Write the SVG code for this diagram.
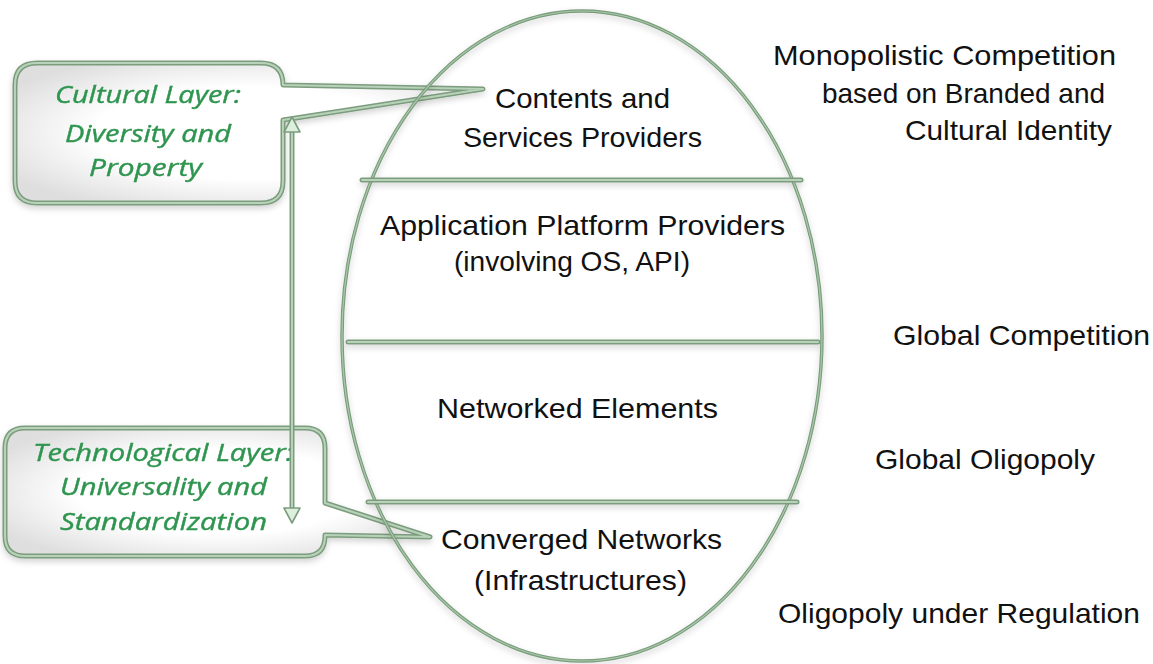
<svg xmlns="http://www.w3.org/2000/svg" width="1153" height="664" viewBox="0 0 1153 664">
<style>
.txt{font-family:"Liberation Sans",Arial,sans-serif;font-size:28px;fill:#111}
.ctxt{font-family:"Open Sans","Liberation Sans",sans-serif;font-size:24px;font-style:italic;fill:#2f9550;stroke:#2f9550;stroke-width:0.4}
.outer{fill:none;stroke:#7c9c7e;stroke-width:5;stroke-linecap:round;stroke-linejoin:round}
.inner{fill:none;stroke:#b7d2b8;stroke-width:2;stroke-linecap:round;stroke-linejoin:round}
.eo{fill:none;stroke:#7a9c7c;stroke-width:3.5}
.ei{fill:none;stroke:#a8c8aa;stroke-width:1.2}
.boxfill{fill:url(#boxg)}
.head{fill:#dcefdc;stroke:#7c9c7e;stroke-width:1.6;stroke-linejoin:round}
</style>
<defs>
<radialGradient id="boxg" cx="50%" cy="50%" r="60%">
<stop offset="0.55" stop-color="#ffffff"/>
<stop offset="1" stop-color="#dedede"/>
</radialGradient>
<filter id="sh" x="-10%" y="-10%" width="120%" height="130%">
<feDropShadow dx="0" dy="3" stdDeviation="3" flood-color="#000" flood-opacity="0.18"/>
</filter>
</defs>
<rect width="1153" height="664" fill="#ffffff"/>

<g id="callout-cultural" filter="url(#sh)">
<path class="boxfill" d="M37 63 H261 Q283 63 283 85 L483 89 L283 120 V181 Q283 203 261 203 H37 Q15 203 15 181 V85 Q15 63 37 63 Z"/>
<path class="outer" stroke-width="4" d="M37 63 H261 Q283 63 283 85 L483 89 L283 120 V181 Q283 203 261 203 H37 Q15 203 15 181 V85 Q15 63 37 63 Z"/>
<path class="inner" stroke-width="1.3" stroke="#dfeadf" d="M37 63 H261 Q283 63 283 85 L483 89 L283 120 V181 Q283 203 261 203 H37 Q15 203 15 181 V85 Q15 63 37 63 Z"/>
<text class="ctxt" x="55" y="103" textLength="186" lengthAdjust="spacingAndGlyphs">Cultural Layer:</text>
<text class="ctxt" x="65" y="142" textLength="166" lengthAdjust="spacingAndGlyphs">Diversity and</text>
<text class="ctxt" x="89" y="176" textLength="113" lengthAdjust="spacingAndGlyphs">Property</text>
</g>

<g id="callout-technological" filter="url(#sh)">
<path class="boxfill" d="M25 428 H305 Q325 428 325 448 V503 L430 537 L325 535 V536 Q325 556 305 556 H25 Q5 556 5 536 V448 Q5 428 25 428 Z"/>
<path class="outer" stroke-width="4" d="M25 428 H305 Q325 428 325 448 V503 L430 537 L325 535 V536 Q325 556 305 556 H25 Q5 556 5 536 V448 Q5 428 25 428 Z"/>
<path class="inner" stroke-width="1.3" stroke="#dfeadf" d="M25 428 H305 Q325 428 325 448 V503 L430 537 L325 535 V536 Q325 556 305 556 H25 Q5 556 5 536 V448 Q5 428 25 428 Z"/>
<text class="ctxt" x="33" y="461" textLength="260" lengthAdjust="spacingAndGlyphs">Technological Layer:</text>
<text class="ctxt" x="60" y="495" textLength="207" lengthAdjust="spacingAndGlyphs">Universality and</text>
<text class="ctxt" x="60" y="530" textLength="207" lengthAdjust="spacingAndGlyphs">Standardization</text>
</g>

<g id="layer-stack" filter="url(#sh)">
<ellipse class="eo" cx="582" cy="336" rx="240" ry="325"/>
<ellipse class="ei" cx="582" cy="336" rx="240" ry="325"/>
<line class="outer" x1="362" y1="180" x2="801" y2="180"/>
<line class="inner" x1="362" y1="180" x2="801" y2="180"/>
<line class="outer" x1="348" y1="342" x2="818" y2="342"/>
<line class="inner" x1="348" y1="342" x2="818" y2="342"/>
<line class="outer" x1="368" y1="502" x2="797" y2="502"/>
<line class="inner" x1="368" y1="502" x2="797" y2="502"/>
</g>

<g id="connectors">
<line class="outer" x1="292" y1="130" x2="292" y2="510" stroke-width="4"/>
<line class="inner" x1="292" y1="130" x2="292" y2="510" stroke-width="1.3"/>
<polygon class="head" points="292,117 284,132 300,132"/>
<polygon class="head" points="292,523 284,508 300,508"/>
</g>

<g id="node-contents">
<text class="txt" x="495" y="108" textLength="175" lengthAdjust="spacingAndGlyphs">Contents and</text>
<text class="txt" x="463" y="147" textLength="239" lengthAdjust="spacingAndGlyphs">Services Providers</text>
</g>
<g id="node-platform">
<text class="txt" x="380" y="235" textLength="405" lengthAdjust="spacingAndGlyphs">Application Platform Providers</text>
<text class="txt" x="454" y="271" textLength="236" lengthAdjust="spacingAndGlyphs">(involving OS, API)</text>
</g>
<g id="node-elements">
<text class="txt" x="437" y="418" textLength="281" lengthAdjust="spacingAndGlyphs">Networked Elements</text>
</g>
<g id="node-networks">
<text class="txt" x="441" y="549" textLength="281" lengthAdjust="spacingAndGlyphs">Converged Networks</text>
<text class="txt" x="474" y="590" textLength="213" lengthAdjust="spacingAndGlyphs">(Infrastructures)</text>
</g>

<g id="market-monopolistic">
<text class="txt" x="773" y="65" textLength="343" lengthAdjust="spacingAndGlyphs">Monopolistic Competition</text>
<text class="txt" x="822" y="103" textLength="283" lengthAdjust="spacingAndGlyphs">based on Branded and</text>
<text class="txt" x="905" y="140" textLength="207" lengthAdjust="spacingAndGlyphs">Cultural Identity</text>
</g>
<g id="market-global-competition">
<text class="txt" x="893" y="345" textLength="257" lengthAdjust="spacingAndGlyphs">Global Competition</text>
</g>
<g id="market-global-oligopoly">
<text class="txt" x="875" y="469" textLength="220" lengthAdjust="spacingAndGlyphs">Global Oligopoly</text>
</g>
<g id="market-regulation">
<text class="txt" x="778" y="623" textLength="362" lengthAdjust="spacingAndGlyphs">Oligopoly under Regulation</text>
</g>
</svg>
